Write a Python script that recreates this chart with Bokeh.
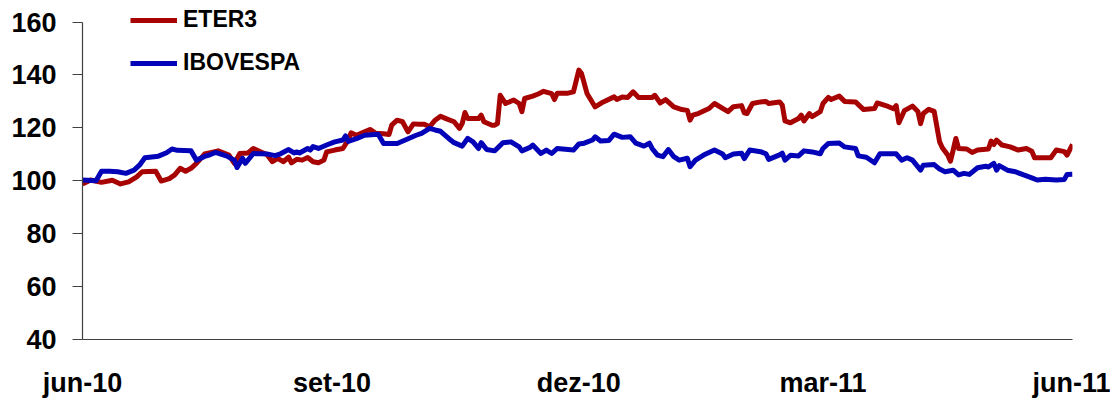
from bokeh.plotting import figure
from bokeh.models import Range1d, FixedTicker, Legend, LegendItem
from bokeh.embed import file_html
from bokeh.resources import INLINE

# x = days since 1-jun-2010
eter_days = [0, 3, 7, 11, 14, 17, 20, 22, 27, 29, 32, 34, 36, 38, 40, 42, 45, 48, 50, 54,
             56, 58, 61, 63, 66, 68, 70, 72, 74, 76, 77, 79, 81, 83, 85, 87, 89, 90, 93, 96,
             98, 99, 101, 104, 106, 108, 111, 113, 114, 116, 118, 120, 122, 124, 126, 128, 130, 132, 134, 137,
             139, 140, 141, 142, 146, 147, 148, 151, 152, 153, 154, 156, 159, 161, 162, 163, 166, 168, 170, 173,
             174, 175, 179, 181, 183, 184, 186, 189, 192, 196, 197, 199, 201, 203, 205, 210, 211, 213, 215, 218,
             221, 223, 224, 225, 227, 231, 233, 238, 240, 243, 244, 245, 247, 250, 252, 253, 257, 258, 259, 261,
             264, 265, 266, 268, 269, 272, 273, 275, 276, 279, 281, 285, 288, 292, 293, 297, 299, 300, 301, 303,
             306, 307, 308, 309, 310, 312, 314, 316, 317, 319, 320, 321, 322, 323, 326, 328, 330, 334, 335, 336,
             337, 339, 342, 345, 348, 350, 351, 357, 359, 362, 363, 365]
eter_vals = [98.8, 100.3, 99.4, 100.2, 98.8, 99.6, 101.5, 103.4, 103.6, 99.9, 100.8, 102.2, 104.7, 103.6, 104.7, 106.6, 110.1, 110.8, 111.3, 109.7,
             106.6, 110.3, 110.5, 112.2, 110.8, 109.9, 107.2, 108.5, 107.2, 108.9, 106.8, 108.1, 107.8, 108.8, 107.2, 106.8, 107.8, 110.9, 111.6, 112.2,
             115.4, 118.1, 117.2, 118.5, 119.4, 118.0, 117.8, 117.5, 121.0, 122.9, 122.3, 118.5, 121.5, 121.4, 121.4, 120.4, 122.9, 124.4, 123.5, 122.3,
             119.8, 121.7, 125.8, 123.5, 123.5, 124.8, 122.3, 121.0, 121.0, 121.6, 132.3, 129.2, 130.5, 129.2, 126.1, 131.1, 132.0, 132.8, 133.8, 132.9,
             130.7, 133.1, 133.1, 133.6, 141.8, 140.5, 133.0, 127.9, 129.8, 131.7, 130.7, 131.7, 131.5, 133.6, 131.5, 131.5, 132.3, 129.4, 130.7, 127.9,
             126.9, 126.6, 122.9, 124.8, 125.4, 127.3, 129.2, 126.1, 128.0, 128.4, 125.7, 125.4, 129.2, 129.8, 130.0, 129.2, 129.8, 128.6, 122.6, 121.9,
             123.5, 124.8, 122.6, 125.4, 124.2, 126.1, 129.2, 131.5, 130.7, 132.0, 130.0, 129.8, 126.9, 127.3, 129.4, 128.1, 127.2, 128.4, 121.9, 126.5,
             128.2, 127.2, 126.2, 121.6, 125.4, 127.0, 126.2, 114.7, 112.5, 109.7, 107.4, 111.6, 116.0, 112.2, 112.0, 110.7, 111.6, 112.0, 115.0, 113.7,
             115.4, 113.5, 112.8, 111.6, 112.2, 111.2, 108.7, 108.7, 111.6, 111.0, 109.7, 113.7]

ibov_days = [0, 5, 7, 10, 13, 16, 19, 21, 23, 28, 31, 33, 35, 40, 42, 45, 47, 49, 53, 56,
             57, 59, 60, 63, 68, 71, 73, 76, 78, 79, 80, 83, 84, 85, 87, 90, 93, 96, 97, 98,
             101, 104, 109, 111, 116, 119, 123, 125, 128, 130, 132, 135, 137, 140, 142, 144, 146, 147, 149, 152,
             155, 158, 161, 162, 165, 166, 169, 171, 173, 175, 179, 181, 183, 185, 188, 189, 191, 194, 196, 199,
             202, 204, 207, 209, 210, 212, 214, 216, 218, 220, 223, 224, 226, 229, 233, 236, 237, 240, 243, 244,
             246, 250, 252, 253, 257, 258, 259, 261, 264, 266, 269, 272, 273, 275, 279, 281, 285, 286, 289, 292,
             294, 300, 302, 304, 306, 309, 310, 314, 316, 318, 321, 323, 325, 327, 330, 333, 334, 336, 337, 338,
             341, 344, 347, 350, 352, 355, 359, 362, 363, 365]
ibov_vals = [100.3, 100.0, 103.6, 103.6, 103.4, 102.8, 104.0, 105.9, 108.7, 109.3, 110.6, 112.0, 111.5, 111.3, 107.8, 109.2, 109.8, 110.7, 109.4, 107.8,
             105.0, 108.5, 106.6, 110.3, 110.1, 109.5, 110.2, 111.8, 110.5, 110.9, 110.5, 112.2, 111.6, 112.9, 112.2, 113.5, 114.7, 115.4, 117.0, 114.9,
             115.9, 117.2, 117.6, 114.1, 114.1, 115.4, 117.2, 117.9, 119.8, 119.2, 118.7, 116.0, 114.4, 113.1, 116.0, 114.7, 112.2, 114.4, 111.8, 111.3,
             114.4, 114.7, 112.8, 111.3, 112.6, 113.5, 110.3, 111.6, 110.3, 112.2, 111.8, 111.6, 113.9, 114.2, 115.4, 116.6, 115.0, 115.2, 117.6, 116.4,
             116.6, 114.2, 113.1, 114.2, 112.2, 109.7, 109.1, 111.8, 109.1, 107.8, 108.5, 105.3, 107.8, 109.7, 111.6, 110.1, 108.7, 110.1, 110.4, 108.4,
             111.6, 111.0, 110.2, 108.1, 109.8, 110.4, 107.8, 109.6, 109.4, 111.3, 110.9, 110.2, 112.2, 114.1, 114.3, 112.8, 112.2, 109.4, 108.9, 106.8,
             110.2, 110.2, 107.8, 108.7, 107.8, 104.0, 105.9, 106.1, 104.4, 103.4, 104.0, 102.2, 102.8, 102.4, 104.9, 105.5, 105.2, 106.6, 104.0, 105.7,
             104.0, 103.4, 102.2, 101.1, 100.3, 100.6, 100.3, 100.5, 102.4, 102.5]

tick_days = [0, 92, 183, 273, 365]
tick_labels = ["jun-10", "set-10", "dez-10", "mar-11", "jun-11"]
y_ticks = [40, 60, 80, 100, 120, 140, 160]
y_min, y_axis_max, y_view_max = 40, 160, 167

FONT = "Liberation Sans"

p = figure(width=1110, height=400, output_backend="svg", toolbar_location=None,
           x_range=Range1d(0, 365), y_range=Range1d(y_min, y_view_max),
           min_border_left=82, min_border_right=38, min_border_top=3, min_border_bottom=60)
p.outline_line_color = None
p.xgrid.visible = False
p.ygrid.visible = False
p.background_fill_color = "white"
p.border_fill_color = "white"

r1 = p.line(eter_days, eter_vals, line_color="#A80303", line_width=5, line_join="round")
r2 = p.line(ibov_days, ibov_vals, line_color="#0303B8", line_width=5, line_join="round")

xa = p.xaxis[0]
xa.ticker = FixedTicker(ticks=tick_days)
xa.major_label_overrides = {d: l for d, l in zip(tick_days, tick_labels)}
xa.major_tick_out = 0
xa.major_tick_in = 0
xa.minor_tick_out = 0
xa.minor_tick_in = 0
xa.major_label_standoff = 28
xa.axis_line_color = "#404040"
xa.axis_line_width = 1.2
xa.major_label_text_font = FONT
xa.major_label_text_font_style = "bold"
xa.major_label_text_font_size = "27px"
xa.major_label_text_color = "black"

ya = p.yaxis[0]
ya.ticker = FixedTicker(ticks=y_ticks)
ya.bounds = (y_min, y_axis_max)
ya.major_tick_out = 10
ya.major_tick_in = 0
ya.minor_tick_out = 0
ya.minor_tick_in = 0
ya.major_tick_line_color = "#404040"
ya.axis_line_color = "#404040"
ya.axis_line_width = 1.2
ya.major_label_standoff = 16
ya.major_label_text_font = FONT
ya.major_label_text_font_style = "bold"
ya.major_label_text_font_size = "27px"
ya.major_label_text_color = "black"

legend = Legend(items=[LegendItem(label="ETER3", renderers=[r1]),
                       LegendItem(label="IBOVESPA", renderers=[r2])],
                location=(48, 263), orientation="vertical")
legend.border_line_color = None
legend.background_fill_alpha = 0
legend.padding = 0
legend.margin = 0
legend.spacing = 16
legend.glyph_width = 47
legend.glyph_height = 26
legend.label_height = 26
legend.label_standoff = 6
legend.label_text_font = FONT
legend.label_text_font_style = "bold"
legend.label_text_font_size = "23px"
legend.label_text_color = "black"
p.add_layout(legend, "center")

open("out.html", "w").write(file_html(p, INLINE))
